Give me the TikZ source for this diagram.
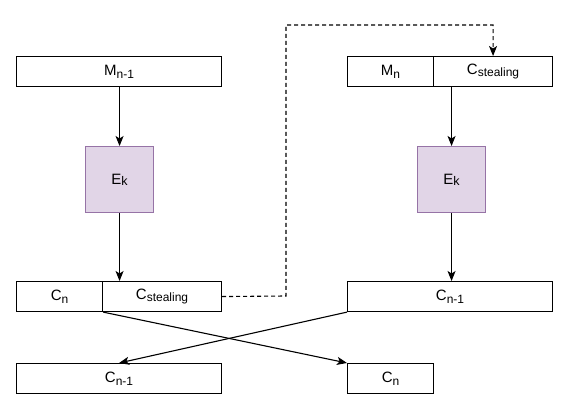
\documentclass[tikz,border=0pt]{standalone}
\usepackage{fontspec}
\setmainfont{Liberation Sans}
\usetikzlibrary{arrows.meta}
\newcommand{\dsub}[1]{\raisebox{-0.35ex}{\fontsize{12}{13}\selectfont #1}}
\newcommand{\ksub}[1]{\raisebox{-0.1ex}{\fontsize{12.5}{13}\selectfont #1}}
\definecolor{efill}{HTML}{E1D5E7}
\definecolor{edraw}{HTML}{9673A6}
\tikzset{
  cell/.style={draw=black, line width=1.1pt, fill=white, minimum height=30pt, inner sep=0pt, anchor=north west, font=\fontsize{15}{17}\selectfont},
  ebox/.style={draw=edraw, line width=1.1pt, fill=efill, minimum width=68pt, minimum height=66pt, inner sep=0pt, anchor=north west, font=\fontsize{15}{17}\selectfont},
  arr/.style={line width=1.1pt, -{Stealth[length=10pt,width=8pt,inset=2.5pt]}},
  darr/.style={line width=1.1pt, dash pattern=on 4pt off 3pt, -{Stealth[length=10pt,width=8pt,inset=2.5pt]}}
}
\begin{document}
\begin{tikzpicture}[x=1pt,y=-1pt]
\useasboundingbox (0,0) rectangle (570,417);
% top left
\node[cell, minimum width=205pt] (mn1) at (16,56) {M\dsub{n-1}};
% top right
\node[cell, minimum width=86pt] (mn) at (347,56) {M\dsub{n}};
\node[cell, minimum width=119pt] (cst) at (433,56) {C\dsub{stealing}};
% E boxes
\node[ebox] (ekl) at (85,146) {E\ksub{k}};
\node[ebox] (ekr) at (417,146) {E\ksub{k}};
% middle row
\node[cell, minimum width=86pt] (cnl) at (16,281) {C\dsub{n}};
\node[cell, minimum width=119pt] (cstl) at (102,281) {C\dsub{stealing}};
\node[cell, minimum width=205pt] (cn1r) at (347,281) {C\dsub{n-1}};
% bottom row
\node[cell, minimum width=205pt] (cn1b) at (16,363) {C\dsub{n-1}};
\node[cell, minimum width=86pt] (cnb) at (347,363) {C\dsub{n}};
% bend points of the dashed connector
\coordinate (d1) at (286,296);
\coordinate (d2) at (286,25);
\coordinate (d3) at (cst.north |- d2);
% arrows
\draw[arr] (mn1.south -| ekl.north) -- (ekl.north);
\draw[arr] (ekl.south) -- (cstl.north west -| ekl.south);
\draw[arr] (ekr.north |- cst.south) -- (ekr.north);
\draw[arr] (ekr.south) -- (cn1r.north -| ekr.south);
\draw[darr] (cstl.east) -- (d1) -- (d2) -- (d3) -- (cst.north);
\draw[arr] (cnl.south east) -- (cnb.north west);
\draw[arr] (cn1r.south west) -- (cn1b.north);
\end{tikzpicture}
\end{document}
